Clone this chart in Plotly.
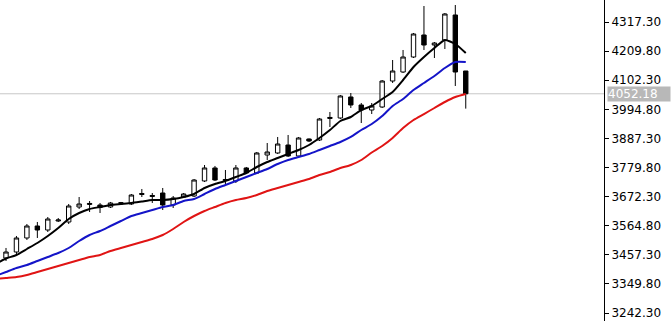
import plotly.graph_objects as go

# Candles (index 0..44)
idx = list(range(45))
opens = [3445.5, 3467.6, 3519.4, 3563.7, 3548.9, 3582.2, 3578.5, 3633.9, 3643.2, 3641.3,
         3633.9, 3647.7, 3645.0, 3680.0, 3672.7, 3685.6, 3641.3, 3670.8, 3674.5, 3730.0,
         3778.0, 3731.8, 3730.0, 3778.0, 3759.5, 3826.0, 3833.4, 3862.9, 3822.3, 3885.1,
         3881.4, 3960.9, 3962.7, 4040.3, 4010.7, 3992.2, 4003.3, 4099.3, 4132.6, 4188.0,
         4269.3, 4232.3, 4250.8, 4343.2, 4136.3]
highs = [3482.5, 3526.8, 3571.1, 3578.5, 3596.9, 3593.2, 3645.0, 3670.8, 3656.0, 3648.7,
         3652.4, 3652.4, 3681.9, 3700.4, 3685.6, 3704.1, 3674.5, 3685.6, 3737.3, 3789.0,
         3785.4, 3770.6, 3789.0, 3781.7, 3837.1, 3870.3, 3892.5, 3899.9, 3892.5, 3887.0,
         3962.7, 3984.8, 4047.6, 4055.0, 4018.1, 4018.1, 4103.0, 4176.9, 4213.9, 4276.7,
         4376.4, 4243.4, 4350.5, 4380.1, 4136.3]
lows = [3434.4, 3460.3, 3512.0, 3519.4, 3541.5, 3578.5, 3571.1, 3626.5, 3615.4, 3611.7,
        3630.2, 3641.3, 3641.3, 3670.8, 3648.7, 3622.8, 3630.2, 3667.1, 3670.8, 3726.2,
        3730.0, 3715.2, 3722.5, 3755.8, 3755.8, 3807.5, 3829.7, 3818.6, 3818.6, 3874.0,
        3877.7, 3929.4, 3959.0, 3999.6, 3944.2, 3977.4, 3999.6, 4092.0, 4128.9, 4184.3,
        4213.9, 4184.3, 4217.6, 4080.9, 3997.3]
closes = [3467.6, 3519.4, 3563.7, 3548.9, 3589.5, 3585.8, 3637.6, 3645.0, 3646.9, 3632.1,
          3648.7, 3649.6, 3678.2, 3683.7, 3676.4, 3641.3, 3667.1, 3681.9, 3733.6, 3778.0,
          3733.6, 3735.5, 3778.0, 3759.5, 3833.4, 3837.1, 3866.6, 3822.3, 3888.8, 3877.7,
          3959.0, 3964.6, 4044.0, 4010.7, 3992.2, 4007.0, 4099.3, 4136.3, 4188.0, 4273.0,
          4232.3, 4239.7, 4346.9, 4132.6, 4052.18]

# Moving average lines (index -1..44)
ma_idx = list(range(-1, 45))
ma_fast = [3423.3, 3443.6, 3456.6, 3478.7, 3500.9, 3526.7, 3556.3, 3589.5, 3611.7, 3626.5, 3633.9,
           3641.3, 3645.0, 3648.7, 3654.2, 3659.7, 3659.7, 3663.4, 3670.8, 3681.9, 3704.1,
           3718.8, 3729.9, 3744.7, 3759.5, 3781.6, 3800.1, 3814.9, 3829.7, 3844.4, 3862.9,
           3888.8, 3918.3, 3951.6, 3966.4, 3992.2, 4007.0, 4032.8, 4058.7, 4103.0, 4151.1,
           4188.0, 4221.3, 4250.8, 4236.0, 4202.8]
ma_mid = [3379.0, 3393.7, 3408.5, 3419.6, 3434.4, 3449.2, 3463.9, 3482.4, 3508.3, 3530.4, 3545.2,
          3563.7, 3582.2, 3600.6, 3611.7, 3622.8, 3633.9, 3641.3, 3656.0, 3663.4, 3681.9,
          3700.4, 3715.1, 3729.9, 3744.7, 3759.5, 3774.3, 3792.7, 3807.5, 3818.6, 3829.7,
          3844.4, 3859.2, 3874.0, 3892.5, 3918.3, 3940.5, 3970.0, 4007.0, 4032.8, 4066.1,
          4092.0, 4117.8, 4147.4, 4169.5, 4169.5]
ma_slow = [3367.9, 3371.6, 3375.3, 3382.7, 3393.7, 3404.8, 3415.9, 3427.0, 3438.1, 3449.2, 3456.6,
           3471.3, 3482.4, 3493.5, 3504.6, 3515.7, 3530.4, 3552.6, 3578.5, 3600.6, 3619.1,
           3633.9, 3648.7, 3659.7, 3667.1, 3678.2, 3693.0, 3704.1, 3715.1, 3726.2, 3737.3,
           3752.1, 3763.2, 3777.9, 3789.0, 3807.5, 3835.2, 3859.2, 3888.8, 3925.7, 3955.3,
           3977.4, 3999.6, 4021.8, 4040.2, 4051.3]

tick_vals = [3242.30, 3349.80, 3457.30, 3564.80, 3672.30, 3779.80, 3887.30, 3994.80,
             4102.30, 4209.80, 4317.30]
tick_text = ["%.2f" % v for v in tick_vals]
last_price = 4052.18

fig = go.Figure()
fig.add_trace(go.Scatter(x=ma_idx, y=ma_slow, mode="lines",
                         line=dict(color="#e01414", width=2, shape="spline", smoothing=0.6),
                         hoverinfo="skip"))
fig.add_trace(go.Scatter(x=ma_idx, y=ma_mid, mode="lines",
                         line=dict(color="#1414c8", width=2, shape="spline", smoothing=0.6),
                         hoverinfo="skip"))
fig.add_trace(go.Candlestick(
    x=idx, open=opens, high=highs, low=lows, close=closes,
    increasing=dict(line=dict(color="black", width=1), fillcolor="white"),
    decreasing=dict(line=dict(color="black", width=1), fillcolor="black"),
    whiskerwidth=0,
))
fig.add_trace(go.Scatter(x=ma_idx, y=ma_fast, mode="lines",
                         line=dict(color="black", width=2, shape="spline", smoothing=0.5),
                         hoverinfo="skip"))

fig.add_shape(type="line", xref="paper", x0=0, x1=1, yref="y", y0=last_price, y1=last_price,
              line=dict(color="#c8c8c8", width=1), layer="below")
fig.add_annotation(xref="paper", x=1, y=last_price, yref="y", text="%.2f" % last_price,
                   showarrow=False, xanchor="left", xshift=3, bgcolor="#b8b8b8",
                   width=62, align="left",
                   font=dict(family="DejaVu Sans", size=12, color="white"), borderpad=0)

fig.update_layout(
    width=671, height=321, margin=dict(l=0, r=67, t=0, b=0),
    paper_bgcolor="white", plot_bgcolor="white", showlegend=False,
    boxgap=0.4,
    xaxis=dict(range=[-0.574, 57.23], visible=False, rangeslider=dict(visible=False),
               showgrid=False),
    yaxis=dict(range=[3212.73, 4398.57], side="right", tickvals=tick_vals, ticktext=tick_text,
               ticks="outside", ticklen=4, tickcolor="black", showline=True, linecolor="black",
               linewidth=1, showgrid=False, zeroline=False,
               tickfont=dict(family="DejaVu Sans", size=12, color="black")),
)
fig.write_html("out.html")
